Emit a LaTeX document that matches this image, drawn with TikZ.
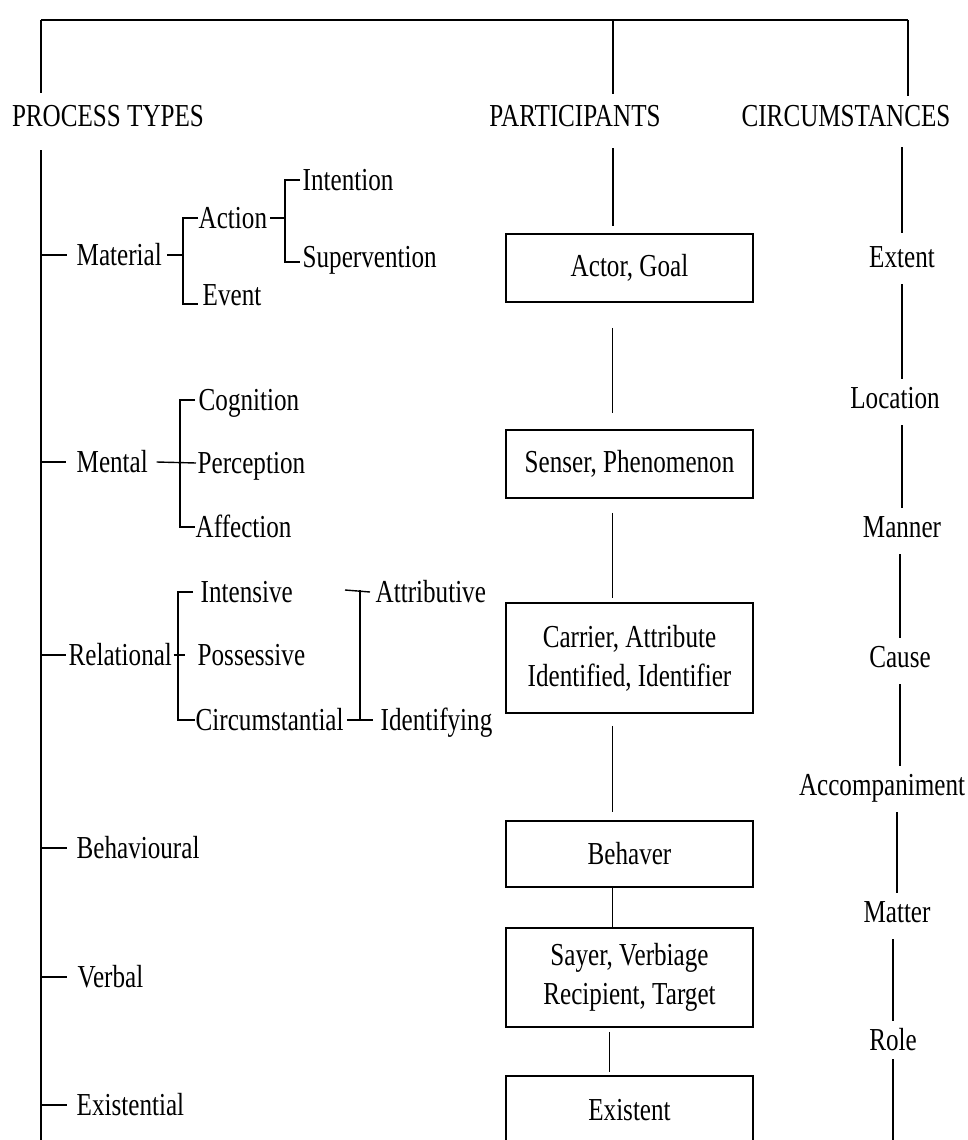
\documentclass[tikz,border=0pt]{standalone}
\usepackage{fontspec}
\setmainfont{Liberation Serif}[FakeStretch=0.785]
\begin{document}
\begin{tikzpicture}[x=1pt,y=-1pt,line width=1.4pt,font=\fontsize{32}{39}\selectfont]
    \tikzstyle{w}=[inner sep=0pt,text height=21pt,text depth=0pt]
    \tikzstyle{lf}=[w,anchor=west]
    \tikzstyle{bx}=[draw,line width=1.8pt,minimum width=247pt,minimum height=68pt,align=center,inner sep=0pt]
    \tikzstyle{cg}=[shorten <=16pt,shorten >=8pt]
    \useasboundingbox (0,0) rectangle (968,1140);
    \coordinate (tl) at (41,20);
    \coordinate (tm) at (613,20);
    \coordinate (tr) at (908,20);
    \coordinate (bot) at (0,1142);
    \node[w] (proc) at (108,116) {PROCESS TYPES};
    \node[w] (part) at (575,116) {PARTICIPANTS};
    \node[w] (circ) at (846,116) {CIRCUMSTANCES};
    \draw (tl) -- (tr);
    \draw[shorten >=12pt] (tl) -- (tl |- proc.north);
    \draw[shorten >=11pt] (tm) -- (tm |- part.north);
    \draw[shorten >=9pt] (tr) -- (tr |- circ.north);
    \draw[shorten <=23pt] (tl |- proc.south) -- (tl |- bot);
    \node[lf] (mat) at (76,255) {Material};
    \node[lf] (men) at (76,462) {Mental};
    \node[lf] (rel) at (68,655) {Relational};
    \node[lf] (beh) at (76,848) {Behavioural};
    \node[lf] (ver) at (77,977) {Verbal};
    \node[lf] (exi) at (76,1105) {Existential};
    \node[lf] (act) at (198,218) {Action};
    \node[lf] (evt) at (202,295) {Event};
    \node[lf] (int) at (302,180) {Intention};
    \node[lf] (sup) at (302,257) {Supervention};
    \node[lf] (cog) at (198,400) {Cognition};
    \node[lf] (per) at (197,463) {Perception};
    \node[lf] (aff) at (195,527) {Affection};
    \node[lf] (ins) at (200,592) {Intensive};
    \node[lf] (pos) at (197,655) {Possessive};
    \node[lf] (cir) at (195,720) {Circumstantial};
    \node[lf] (att) at (375,592) {Attributive};
    \node[lf] (ide) at (380,720) {Identifying};
    \coordinate (mb) at (183,255);
    \coordinate (ab) at (285,218);
    \coordinate (nb) at (180,462);
    \coordinate (rb) at (178,655);
    \coordinate (ib) at (360,590);
    \coordinate (ifr) at (345,590);
    \draw (mat.west -| tl) -- ([xshift=-9pt]mat.west);
    \draw (men.west -| tl) -- ([xshift=-10pt]men.west);
    \draw (rel.west -| tl) -- ([xshift=-2pt]rel.west);
    \draw (beh.west -| tl) -- ([xshift=-9pt]beh.west);
    \draw (ver.west -| tl) -- ([xshift=-10pt]ver.west);
    \draw (exi.west -| tl) -- ([xshift=-9pt]exi.west);
    \draw ([xshift=5pt]mat.east) -- (mb);
    \draw (act.west) -| (mb) |- ([xshift=-4pt,yshift=-9pt]evt.west);
    \draw ([xshift=2pt]act.east) -- (ab);
    \draw ([xshift=-2pt]int.west) -| (ab) |- ([xshift=-2pt,yshift=-5pt]sup.west);
    \draw ([xshift=8pt]men.east) -- ([xshift=-1pt]per.west);
    \draw ([xshift=-3pt]cog.west) -| (nb) |- (aff.west);
    \draw ([xshift=1pt]rel.east) -- ([xshift=-12pt]pos.west);
    \draw ([xshift=-7pt]ins.west) -| (rb) |- (cir.west);
    \draw (ifr) -- ([xshift=-5pt]att.west);
    \draw ([xshift=3pt]cir.east) -- ([xshift=-7pt]ide.west);
    \draw (ib) -- (ib |- ide.west);
    \node[bx] (ag) at (629.5,268) {Actor, Goal};
    \node[bx] (sp) at (629.5,464) {Senser, Phenomenon};
    \node[bx,minimum height=110pt] (ca) at (629.5,658) {Carrier, Attribute\\Identified, Identifier};
    \node[bx,minimum height=66pt] (bv) at (629.5,854) {Behaver};
    \node[bx,minimum height=99pt] (sv) at (629.5,977.5) {Sayer, Verbiage\\Recipient, Target};
    \node[bx] (ex) at (629.5,1110) {Existent};
    \draw[shorten <=21pt,shorten >=7pt] (tm |- part.south) -- (tm |- ag.north);
    \draw[shorten <=25pt,shorten >=16pt] ([xshift=-17pt]ag.south) -- ([xshift=-17pt]sp.north);
    \draw[shorten <=14pt,shorten >=4pt] ([xshift=-17pt]sp.south) -- ([xshift=-17pt]ca.north);
    \draw[shorten <=12pt,shorten >=8pt] ([xshift=-17pt]ca.south) -- ([xshift=-17pt]bv.north);
    \draw ([xshift=-17pt]bv.south) -- ([xshift=-17pt]sv.north);
    \draw[shorten <=4pt,shorten >=3pt] ([xshift=-20pt]sv.south) -- ([xshift=-20pt]ex.north);
    \node[w] (ext) at (902,257) {Extent};
    \node[w] (loc) at (895,398) {Location};
    \node[w] (man) at (902,527) {Manner};
    \node[w] (cau) at (900,657) {Cause};
    \node[w] (acc) at (882,785) {Accompaniment};
    \node[w] (mtr) at (897,912) {Matter};
    \node[w] (rol) at (893,1040) {Role};
    \draw[shorten <=20pt,shorten >=13pt] (circ.south -| ext) -- (ext.north);
    \draw[cg] (ext.south) -- (ext.south |- loc.north);
    \draw[cg] (loc.south -| man) -- (man.north);
    \draw[cg] (cau.north |- man.south) -- (cau.north);
    \draw[cg] (cau.south) -- (cau.south |- acc.north);
    \draw[cg] (mtr.north |- acc.south) -- (mtr.north);
    \draw[cg] (rol.north |- mtr.south) -- (rol.north);
    \draw[shorten <=8pt] (rol.south) -- (rol.south |- bot);
\end{tikzpicture}
\end{document}
